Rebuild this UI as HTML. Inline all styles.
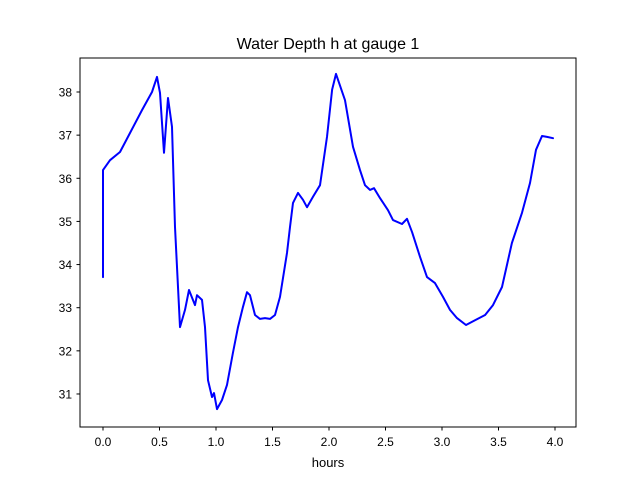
<!DOCTYPE html>
<html><head><meta charset="utf-8"><style>
body{margin:0;background:#fff}
svg text{font-family:"Liberation Sans","DejaVu Sans",sans-serif;fill:#000}
</style></head><body>
<svg id="chart" width="640" height="480" viewBox="0 0 640 480" xmlns="http://www.w3.org/2000/svg">
<rect width="640" height="480" fill="#fff"/>
<text x="328" y="49" font-size="16" text-anchor="middle">Water Depth h at gauge 1</text>
<rect x="80" y="58" width="496" height="369" fill="none" stroke="#000" stroke-width="1"/>
<g id="xt"></g>
<g id="yt"></g>
<text x="328" y="467" font-size="13" text-anchor="middle">hours</text>
<polyline id="line" fill="none" stroke="#0000ff" stroke-width="2" stroke-linejoin="round" stroke-linecap="round"/>
</svg>
<script>
const hours=[0,0,0.062,0.150,0.239,0.345,0.434,0.478,0.504,0.540,0.575,0.611,0.637,0.681,0.726,0.761,0.814,0.832,0.876,0.903,0.929,0.965,0.982,1.009,1.053,1.097,1.150,1.195,1.239,1.274,1.301,1.345,1.389,1.434,1.478,1.522,1.566,1.628,1.655,1.681,1.726,1.770,1.805,1.858,1.920,1.982,2.027,2.062,2.142,2.212,2.274,2.319,2.363,2.398,2.451,2.522,2.566,2.646,2.690,2.735,2.805,2.867,2.938,3.009,3.071,3.133,3.212,3.292,3.381,3.451,3.531,3.619,3.708,3.779,3.832,3.885,3.929,3.982];
const depth=[33.71,36.19,36.42,36.61,37.05,37.58,38.0,38.35,37.98,36.59,37.86,37.19,34.87,32.55,32.95,33.41,33.06,33.29,33.18,32.55,31.32,30.93,31.02,30.65,30.86,31.21,31.95,32.55,33.02,33.36,33.29,32.83,32.74,32.76,32.74,32.83,33.25,34.27,34.87,35.43,35.66,35.50,35.33,35.57,35.84,36.96,38.05,38.42,37.81,36.73,36.19,35.84,35.73,35.77,35.54,35.26,35.03,34.94,35.06,34.75,34.18,33.71,33.57,33.25,32.95,32.76,32.60,32.71,32.83,33.06,33.48,34.50,35.20,35.89,36.66,36.98,36.96,36.93];
const xTicks=[0,0.5,1,1.5,2,2.5,3,3.5,4];
const xTickLabels=["0.0","0.5","1.0","1.5","2.0","2.5","3.0","3.5","4.0"];
const yTicks=[31,32,33,34,35,36,37,38];
const xs=h=>103+h*113;
const ys=v=>92+(38-v)*43.14;
const NS="http://www.w3.org/2000/svg";
const xt=document.getElementById('xt'),yt=document.getElementById('yt');
xTicks.forEach((t,i)=>{
 const l=document.createElementNS(NS,'line');
 l.setAttribute('x1',xs(t));l.setAttribute('x2',xs(t));l.setAttribute('y1',427);l.setAttribute('y2',430.5);l.setAttribute('stroke','#000');
 
 
 xt.appendChild(l);
 const tx=document.createElementNS(NS,'text');
 tx.setAttribute('x',xs(t));tx.setAttribute('y',446);tx.setAttribute('font-size','12');tx.setAttribute('text-anchor','middle');
 tx.textContent=xTickLabels[i];
 
 
 xt.appendChild(tx);
});
yTicks.forEach(t=>{
 const l=document.createElementNS(NS,'line');
 l.setAttribute('x1',76.5);l.setAttribute('x2',80);l.setAttribute('y1',ys(t));l.setAttribute('y2',ys(t));l.setAttribute('stroke','#000');
 
 
 yt.appendChild(l);
 const tx=document.createElementNS(NS,'text');
 tx.setAttribute('x',72);tx.setAttribute('y',ys(t)+4.5);tx.setAttribute('font-size','12');tx.setAttribute('text-anchor','end');
 tx.textContent=String(t);
 
 
 yt.appendChild(tx);
});
document.getElementById('line').setAttribute('points',hours.map((h,i)=>xs(h).toFixed(1)+','+ys(depth[i]).toFixed(1)).join(' '));
</script>
</body></html>
